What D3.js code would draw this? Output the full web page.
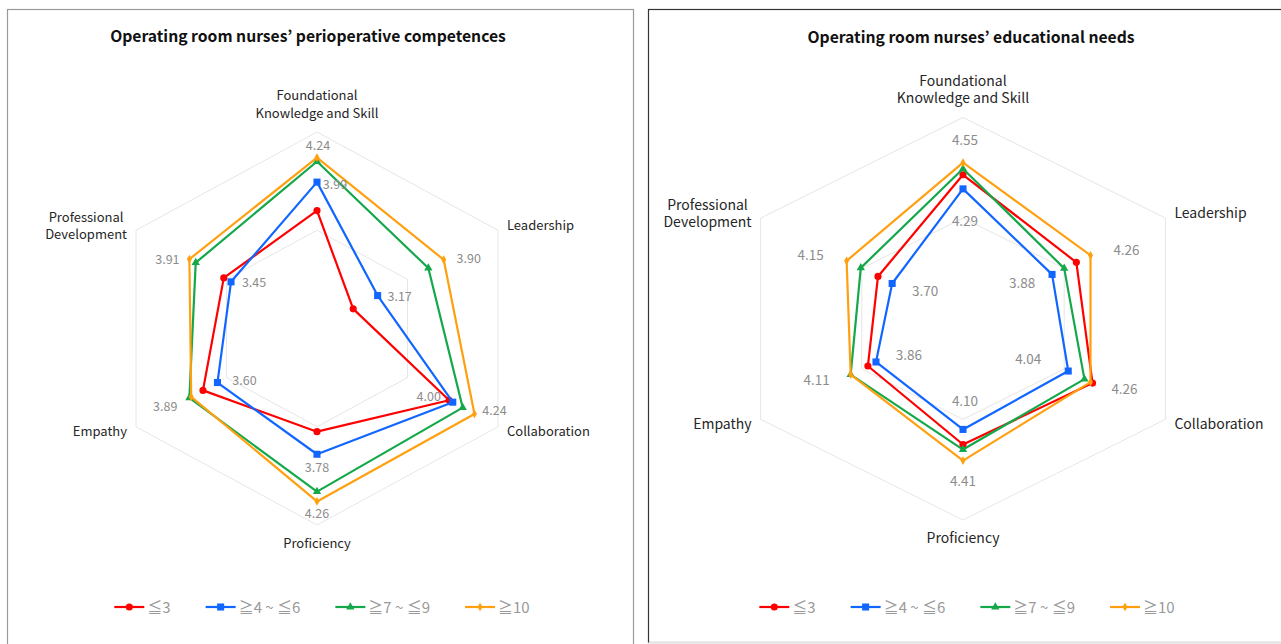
<!DOCTYPE html>
<html>
<head>
<meta charset="utf-8">
<script src="https://cdn.jsdelivr.net/npm/d3@7"></script>
<style>
body { margin: 0; background: #fff; }
svg { display: block; font-family: "Noto Sans CJK KR", "Noto Sans", sans-serif; }
</style>
</head>
<body>
<svg id="chart" width="1281" height="644"></svg>
<script>
// Radar axes (clockwise from top)
const axisLabels = [
    ["Foundational", "Knowledge and Skill"],
    ["Leadership"],
    ["Collaboration"],
    ["Proficiency"],
    ["Empathy"],
    ["Professional", "Development"]
];

// Career groups (years)
const seriesNames = ["≦3", "≧4 ~ ≦6", "≧7 ~ ≦9", "≧10"];

// Perioperative competences by group
const competenceLe3 = [3.70, 2.90, 3.96, 3.55, 3.76, 3.53];
const competence4to6 = [3.99, 3.17, 4.00, 3.78, 3.60, 3.45];
const competence7to9 = [4.20, 3.73, 4.11, 4.16, 3.91, 3.84];
const competenceGe10 = [4.24, 3.90, 4.24, 4.26, 3.89, 3.91];

// Educational needs by group
const needsLe3 = [4.43, 4.12, 4.28, 4.25, 3.94, 3.84];
const needs4to6 = [4.29, 3.88, 4.04, 4.10, 3.86, 3.70];
const needs7to9 = [4.49, 4.00, 4.20, 4.30, 4.11, 4.01];
const needsGe10 = [4.55, 4.26, 4.26, 4.41, 4.11, 4.15];

// Radial axis range and grid rings
const competenceDomain = [2.5, 4.5];
const competenceRings = [3.5, 4.5];
const needsDomain = [3.0, 5.0];
const needsRings = [4.0, 5.0];

// Series styling
const COLORS = ["#ff0000", "#1166ff", "#14a84a", "#ffa010"];
const SYMBOLS = [d3.symbolCircle, d3.symbolSquare, d3.symbolTriangle, d3.symbolDiamond];
const SYMBOL_SIZES = [40, 50, 30, 22];
const LABELLED = [1, 3]; // series that show value labels

// Hand-placed value label offsets (px from the point), [series 1, series 3]
const competenceLabelOffsets = [
    [[18, 3], [1, -12]],
    [[22, 1], [25, -1]],
    [[-24, -6], [20, -3]],
    [[0, 13], [0, 12]],
    [[27, -2], [-26, 10]],
    [[23, 1], [-22, 0]]
];
const needsLabelOffsets = [
    [[2, 32], [2, -22]],
    [[-30, 9], [36, -5]],
    [[-40, -12], [34, 7]],
    [[2, -28], [0, 21]],
    [[33, -7], [-34, 6]],
    [[33, 8], [-36, -6]]
];

const svg = d3.select("#chart");

// Panel frames
svg.append("rect")
    .attr("x", 7.5).attr("y", 9.5).attr("width", 626).attr("height", 660)
    .attr("fill", "none").attr("stroke", "#9a9a9a").attr("stroke-width", 1.2);
svg.append("rect")
    .attr("x", 648.5).attr("y", 9.5).attr("width", 660).attr("height", 633)
    .attr("fill", "none").attr("stroke", "#333").attr("stroke-width", 1.2);
svg.append("line")
    .attr("x1", 648.5).attr("x2", 1281).attr("y1", 642.5).attr("y2", 642.5)
    .attr("stroke", "#e4e4e4");

function drawRadar(opt) {
    const g = svg.append("g");
    const n = axisLabels.length;
    const r = d3.scaleLinear().domain(opt.domain).range([0, 1]);
    const angle = i => i * 2 * Math.PI / n;
    const pos = (i, v) => [
        opt.cx + opt.rx * r(v) * Math.sin(angle(i)),
        opt.cy - opt.ry * r(v) * Math.cos(angle(i))
    ];

    // Title
    g.append("text")
        .attr("x", opt.titleX).attr("y", opt.titleY)
        .attr("text-anchor", "middle")
        .attr("font-size", opt.titleSize).attr("font-weight", "bold")
        .attr("fill", "#111")
        .text(opt.title);

    // Grid rings
    g.selectAll(".ring")
        .data(opt.rings)
        .enter()
        .append("polygon")
        .attr("points", v => d3.range(n).map(i => pos(i, v).join(",")).join(" "))
        .attr("fill", "none")
        .attr("stroke", "#e6e6e6")
        .attr("stroke-width", 1);

    // Axis category labels
    const outer = opt.domain[1];
    axisLabels.forEach((lines, i) => {
        const [vx, vy] = pos(i, outer);
        const s = Math.sin(angle(i));
        const lh = 17.5;
        let x = vx, anchor = "middle", y0;
        if (Math.abs(s) < 0.01) {
            // top or bottom
            y0 = vy < opt.cy ? vy - 19 - (lines.length - 1) * lh : vy + 18;
        } else {
            const upper = vy < opt.cy;
            y0 = vy + (upper ? -4.5 : 4.5) - (lines.length - 1) * lh / 2;
            anchor = s > 0 ? "start" : "end";
            x = vx + (s > 0 ? 9 : -9);
        }
        const texts = lines.map((line, k) => g.append("text")
            .attr("x", x)
            .attr("y", y0 + k * lh)
            .attr("dy", "0.35em")
            .attr("font-size", opt.labelSize)
            .attr("fill", "#262626")
            .attr("text-anchor", anchor)
            .text(line));
        if (lines.length > 1 && anchor !== "middle") {
            // centred block pushed to sit beside the vertex
            const w = d3.max(texts, t => t.node().getComputedTextLength());
            texts.forEach(t => t
                .attr("text-anchor", "middle")
                .attr("x", anchor === "end" ? x - w / 2 : x + w / 2));
        }
    });

    // Series lines and markers
    opt.series.forEach((vals, si) => {
        const pts = vals.map((v, i) => pos(i, v));
        g.append("path")
            .attr("d", d3.line().curve(d3.curveLinearClosed)(pts))
            .attr("fill", "none")
            .attr("stroke", COLORS[si])
            .attr("stroke-width", 2.2)
            .attr("stroke-linejoin", "round");
        g.selectAll(".m" + si)
            .data(pts)
            .enter()
            .append("path")
            .attr("transform", d => `translate(${d[0]},${d[1]})`)
            .attr("d", d3.symbol().type(SYMBOLS[si]).size(SYMBOL_SIZES[si]))
            .attr("fill", COLORS[si]);
    });

    // Value labels
    LABELLED.forEach((si, li) => {
        opt.series[si].forEach((v, i) => {
            const [px, py] = pos(i, v);
            const off = opt.offsets[i][li];
            g.append("text")
                .attr("x", px + off[0]).attr("y", py + off[1])
                .attr("dy", "0.35em")
                .attr("text-anchor", "middle")
                .attr("font-size", opt.valueSize)
                .attr("fill", "#8c8c8c")
                .text(v.toFixed(2));
        });
    });

    // Legend
    const lg = g.append("g");
    let x = 0;
    seriesNames.forEach((name, si) => {
        const item = lg.append("g").attr("transform", `translate(${x},0)`);
        item.append("line")
            .attr("x1", 0).attr("x2", 30).attr("y1", 0).attr("y2", 0)
            .attr("stroke", COLORS[si]).attr("stroke-width", 2.2);
        item.append("path")
            .attr("transform", "translate(15,0)")
            .attr("d", d3.symbol().type(SYMBOLS[si]).size(SYMBOL_SIZES[si]))
            .attr("fill", COLORS[si]);
        const txt = item.append("text")
            .attr("x", 33).attr("y", 0).attr("dy", "0.38em")
            .attr("font-size", opt.legendSize)
            .attr("fill", "#9a9a9a")
            .text(name);
        x += 33 + txt.node().getComputedTextLength() + 35;
    });
    const total = x - 35;
    lg.attr("transform", `translate(${opt.legendX - total / 2},${opt.legendY})`);
}

drawRadar({
    title: "Operating room nurses’ perioperative competences",
    titleX: 308, titleY: 42, titleSize: 15.7,
    cx: 317, cy: 328.5, rx: 209, ry: 196.5,
    domain: competenceDomain, rings: competenceRings,
    series: [competenceLe3, competence4to6, competence7to9, competenceGe10],
    offsets: competenceLabelOffsets,
    labelSize: 13, valueSize: 12.5, legendSize: 15,
    legendX: 322, legendY: 607
});

drawRadar({
    title: "Operating room nurses’ educational needs",
    titleX: 971, titleY: 43, titleSize: 15.7,
    cx: 963, cy: 318.7, rx: 233.7, ry: 201.3,
    domain: needsDomain, rings: needsRings,
    series: [needsLe3, needs4to6, needs7to9, needsGe10],
    offsets: needsLabelOffsets,
    labelSize: 14, valueSize: 13.5, legendSize: 15,
    legendX: 967, legendY: 607
});
</script>
</body>
</html>
